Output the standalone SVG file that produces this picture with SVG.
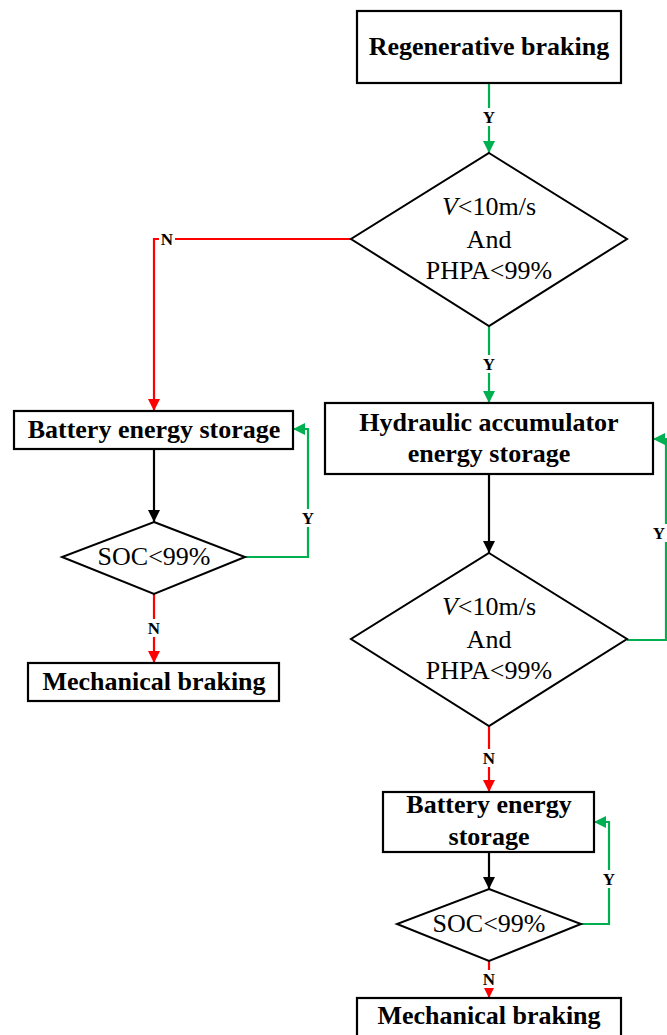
<svg xmlns="http://www.w3.org/2000/svg" width="667" height="1035" viewBox="0 0 667 1035">
<style>
.box{fill:#fff;stroke:#000;stroke-width:2.2}
.dia{fill:#fff;stroke:#000;stroke-width:2}
.bt{font-family:"Liberation Serif",serif;font-weight:bold;font-size:26px;fill:#000;text-anchor:middle}
.dt{font-family:"Liberation Serif",serif;font-size:26px;fill:#000;text-anchor:middle}
.lb{font-family:"Liberation Serif",serif;font-weight:bold;font-size:17px;fill:#000;text-anchor:middle}
.g{stroke:#00B050;stroke-width:2.2;fill:none}
.r{stroke:#FF0000;stroke-width:2.2;fill:none}
.k{stroke:#000;stroke-width:2.2;fill:none}
.bg{fill:#fff}
</style>
<defs>
<marker id="ag" markerUnits="userSpaceOnUse" markerWidth="12" markerHeight="12" viewBox="0 0 12 12" refX="12" refY="6" orient="auto"><path d="M0,0 L12,6 L0,12 z" fill="#00B050"/></marker>
<marker id="ar" markerUnits="userSpaceOnUse" markerWidth="12" markerHeight="12" viewBox="0 0 12 12" refX="12" refY="6" orient="auto"><path d="M0,0 L12,6 L0,12 z" fill="#FF0000"/></marker>
<marker id="ak" markerUnits="userSpaceOnUse" markerWidth="12" markerHeight="12" viewBox="0 0 12 12" refX="12" refY="6" orient="auto"><path d="M0,0 L12,6 L0,12 z" fill="#000"/></marker>
</defs>

<g id="connectors">
<path class="g" d="M489,83 V153" marker-end="url(#ag)"/>
<path class="r" d="M351,239 H154 V411" marker-end="url(#ar)"/>
<path class="g" d="M489,326 V403" marker-end="url(#ag)"/>
<path class="k" d="M154,449 V522" marker-end="url(#ak)"/>
<path class="g" d="M245,557 H308 V429 H293" marker-end="url(#ag)"/>
<path class="r" d="M154,594 V663" marker-end="url(#ar)"/>
<path class="k" d="M489,474 V553" marker-end="url(#ak)"/>
<path class="g" d="M627,640 H666 V439 H653" marker-end="url(#ag)"/>
<path class="r" d="M489,726 V792" marker-end="url(#ar)"/>
<path class="k" d="M489,852 V889" marker-end="url(#ak)"/>
<path class="g" d="M581,924 H609 V822 H594" marker-end="url(#ag)"/>
<path class="r" d="M489,961 V998" marker-end="url(#ar)"/>
<g id="labels">
<rect class="bg" x="481" y="108" width="16" height="18"/><text class="lb" x="489" y="123">Y</text>
<rect class="bg" x="481" y="355" width="16" height="18"/><text class="lb" x="489" y="370">Y</text>
<rect class="bg" x="159" y="230" width="16" height="18"/><text class="lb" x="167" y="245">N</text>
<rect class="bg" x="300" y="509" width="16" height="18"/><text class="lb" x="308" y="524">Y</text>
<rect class="bg" x="146" y="619" width="16" height="18"/><text class="lb" x="154" y="634">N</text>
<rect class="bg" x="652" y="524" width="15" height="18"/><text class="lb" x="659" y="539">Y</text>
<rect class="bg" x="481" y="749" width="16" height="18"/><text class="lb" x="489" y="764">N</text>
<rect class="bg" x="601" y="870" width="16" height="18"/><text class="lb" x="609" y="885">Y</text>
<rect class="bg" x="481" y="970" width="16" height="18"/><text class="lb" x="489" y="985">N</text>
</g>
</g>

<g id="regen">
<rect class="box" x="357" y="11" width="264" height="72"/>
<text class="bt" x="489" y="55">Regenerative braking</text>
</g>

<g id="cond1">
<polygon class="dia" points="489,153 627,239 489,326 351,239"/>
<text class="dt" x="489" y="215"><tspan font-style="italic">V</tspan>&lt;10m/s</text>
<text class="dt" x="489" y="248">And</text>
<text class="dt" x="489" y="279">PHPA&lt;99%</text>
</g>

<g id="battery1">
<rect class="box" x="14" y="411" width="279" height="38"/>
<text class="bt" x="154" y="438">Battery energy storage</text>
</g>

<g id="soc1">
<polygon class="dia" points="154,522 245,557 154,594 62,557"/>
<text class="dt" x="154" y="565">SOC&lt;99%</text>
</g>

<g id="mech1">
<rect class="box" x="28" y="663" width="251" height="38"/>
<text class="bt" x="154" y="690">Mechanical braking</text>
</g>

<g id="hydraulic">
<rect class="box" x="325" y="403" width="328" height="71"/>
<text class="bt" x="489" y="431">Hydraulic accumulator</text>
<text class="bt" x="489" y="462">energy storage</text>
</g>

<g id="cond2">
<polygon class="dia" points="489,553 627,639 489,726 351,639"/>
<text class="dt" x="489" y="615"><tspan font-style="italic">V</tspan>&lt;10m/s</text>
<text class="dt" x="489" y="648">And</text>
<text class="dt" x="489" y="679">PHPA&lt;99%</text>
</g>

<g id="battery2">
<rect class="box" x="383" y="792" width="211" height="60"/>
<text class="bt" x="489" y="813">Battery energy</text>
<text class="bt" x="489" y="845">storage</text>
</g>

<g id="soc2">
<polygon class="dia" points="489,889 581,924 489,961 397,924"/>
<text class="dt" x="489" y="932">SOC&lt;99%</text>
</g>

<g id="mech2">
<rect class="box" x="357" y="998" width="264" height="45"/>
<text class="bt" x="489" y="1024">Mechanical braking</text>
</g>
</svg>
